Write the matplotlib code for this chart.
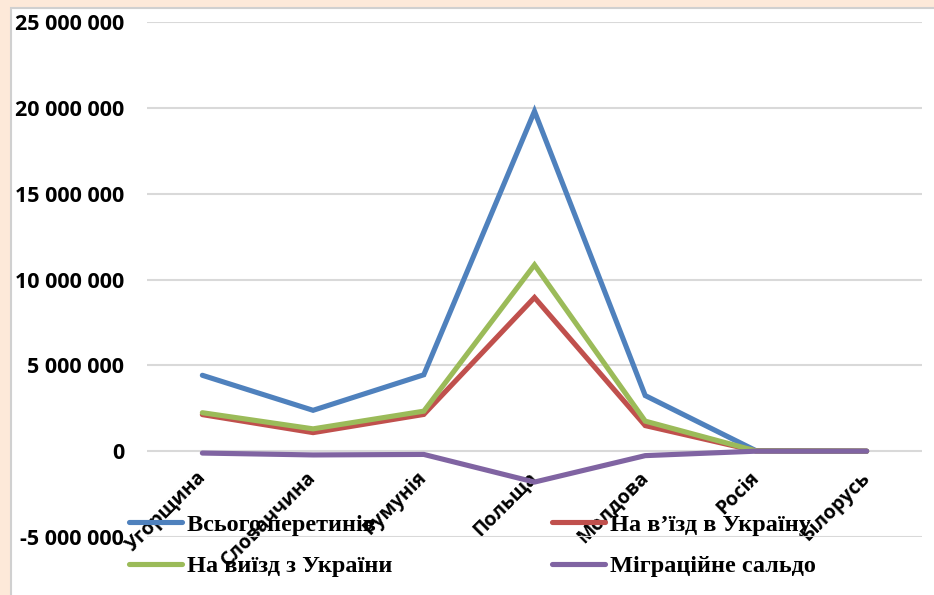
import matplotlib
matplotlib.use("Agg")
import matplotlib.pyplot as plt
from matplotlib.patches import Rectangle
from matplotlib.ticker import FuncFormatter, MultipleLocator

# values in millions of crossings
categories = ['Угорщина', 'Словаччина', 'Румунія', 'Польща', 'Молдова', 'Росія', 'Білорусь']
total = [4.42, 2.38, 4.45, 19.8, 3.24, 0.03, 0.0]
entry = [2.13, 1.08, 2.14, 8.95, 1.49, 0.015, 0.0]
exit_ = [2.24, 1.30, 2.33, 10.85, 1.75, 0.015, 0.0]
saldo = [-0.11, -0.22, -0.19, -1.8, -0.26, 0.0, 0.0]

series_names = ['Всього перетинів', 'На в’їзд в Україну', 'На виїзд з України', 'Міграційне сальдо']
series_colors = ['#4f81bd', '#c0504d', '#9bbb59', '#8064a2']

W, H = 934, 595
fig = plt.figure(figsize=(W / 100, H / 100), dpi=100, facecolor='#fde9d9')
fig.patches.append(Rectangle((10.5 / W, -0.05), 1.1, 1.05 - 8 / H,
                             transform=fig.transFigure, facecolor='white',
                             edgecolor='#d0d0d0', linewidth=1.5, zorder=-10))

ax = fig.add_axes([147 / W, 1 - 537 / H, (922 - 147) / W, (537 - 22) / H])
ax.set_facecolor('none')

x = list(range(len(categories)))
lines = []
for vals, name, col in zip([total, entry, exit_, saldo], series_names, series_colors):
    ys = [v * 1e6 for v in vals]
    ln, = ax.plot(x, ys, color=col, linewidth=3.7, solid_joinstyle='miter',
                  solid_capstyle='round', label=name, zorder=3)
    lines.append(ln)

ax.set_xlim(-0.5, 6.5)
ax.set_ylim(-5e6, 25e6)
ax.yaxis.set_major_locator(MultipleLocator(5e6))
ax.yaxis.set_major_formatter(FuncFormatter(lambda v, p: f'{v:,.0f}'.replace(',', ' ')))
ax.grid(axis='y', color='#d9d9d9', linewidth=1.5, zorder=0)
ax.set_axisbelow(True)

for side in ['top', 'right', 'left']:
    ax.spines[side].set_visible(False)
ax.spines['bottom'].set_position(('data', 0))
ax.spines['bottom'].set_visible(False)

ax.set_xticks(x)
ax.set_xticklabels(categories, rotation=45, ha='right', va='center',
                   rotation_mode='anchor', family='Open Sans', weight='bold', size=14)
ax.tick_params(axis='x', length=0, pad=17)
ax.tick_params(axis='y', length=0, pad=16.5)
for lbl in ax.get_yticklabels():
    lbl.set_fontfamily('Open Sans')
    lbl.set_fontweight('bold')
    lbl.set_fontsize(15.5)

# column-wise fill: blue, green | red, purple
order = [0, 2, 1, 3]
leg = fig.legend([lines[i] for i in order], [series_names[i] for i in order],
                 ncol=2, loc='upper left', bbox_to_anchor=(107 / W, 1 - 492 / H),
                 frameon=False, handlelength=2.2, handletextpad=0.2,
                 columnspacing=6.55, labelspacing=0.8,
                 prop=dict(family='Liberation Serif', weight='bold', size=17.5))

fig.savefig('out.png', dpi=100, facecolor=fig.get_facecolor())
